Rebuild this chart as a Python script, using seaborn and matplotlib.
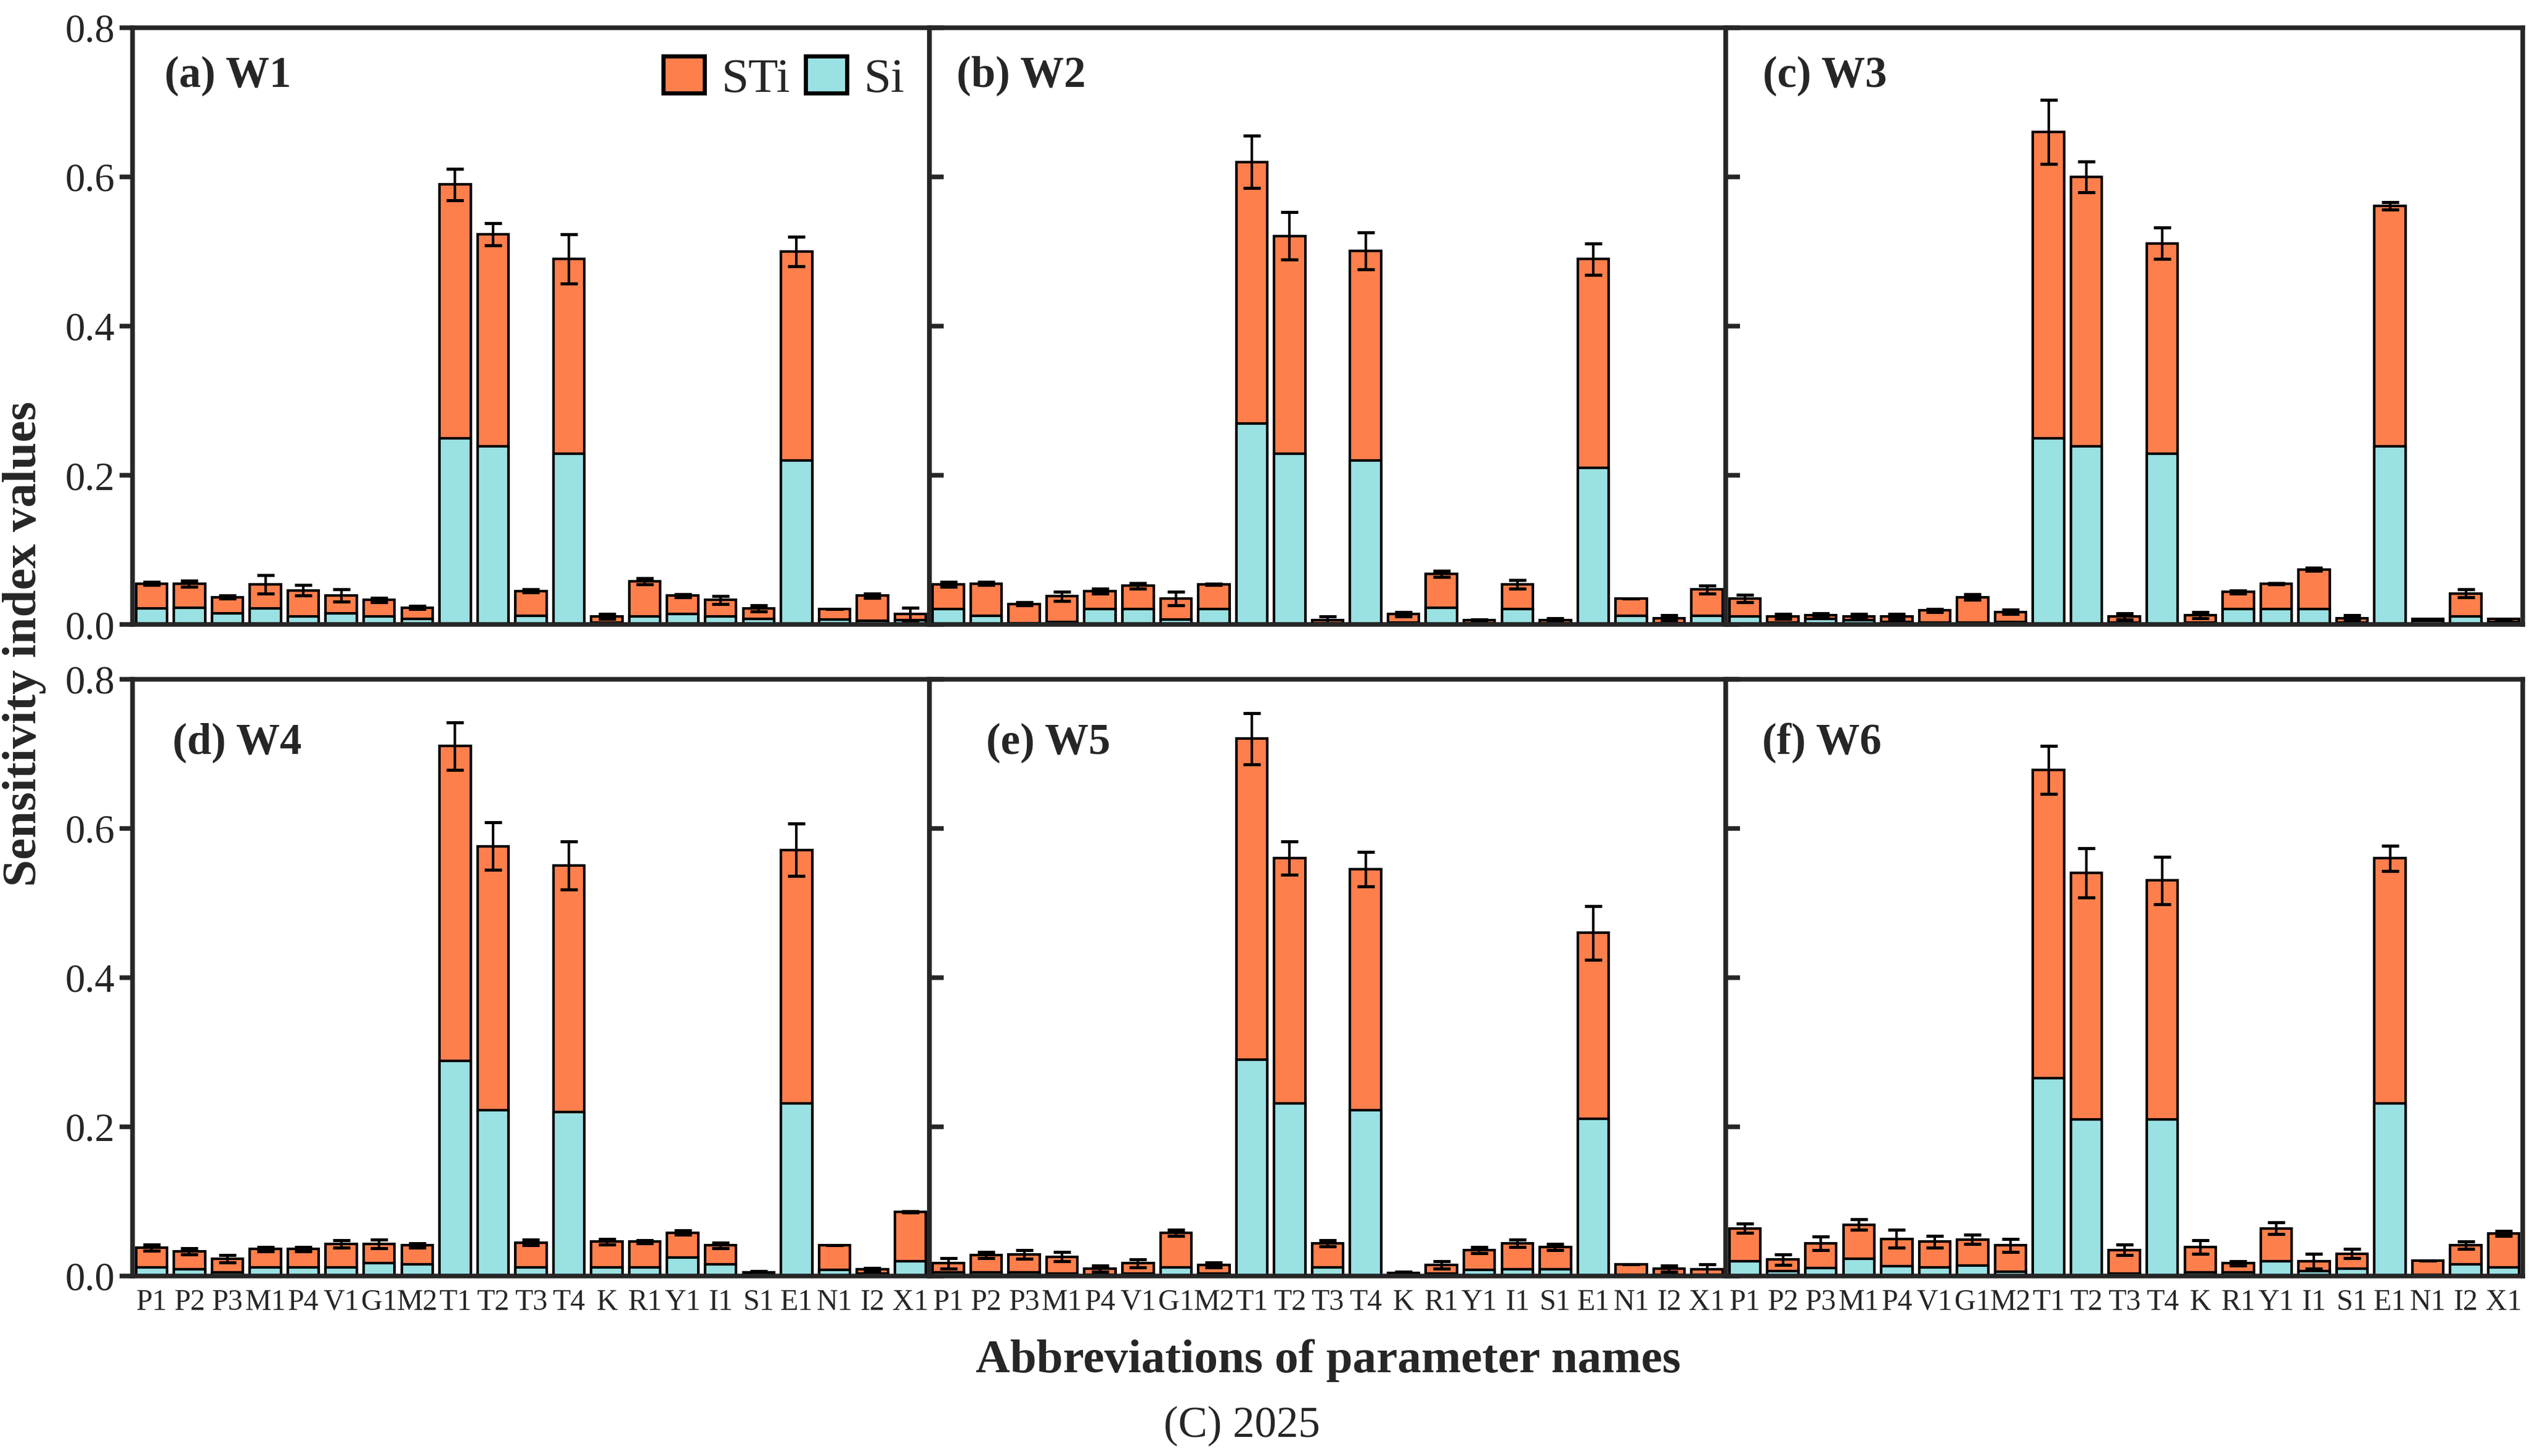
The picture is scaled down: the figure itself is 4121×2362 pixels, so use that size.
import numpy as np
import pandas as pd
import seaborn as sns
import matplotlib
matplotlib.use('Agg')
import matplotlib.pyplot as plt
from matplotlib.patches import Patch
from matplotlib.ticker import FormatStrFormatter

# parameter abbreviations (x axis)
params = ['P1', 'P2', 'P3', 'M1', 'P4', 'V1', 'G1', 'M2', 'T1', 'T2', 'T3',
          'T4', 'K', 'R1', 'Y1', 'I1', 'S1', 'E1', 'N1', 'I2', 'X1']
panel_titles = ['(a) W1', '(b) W2', '(c) W3', '(d) W4', '(e) W5', '(f) W6']

# total-order indices (STi)
sti_w1 = [0.055, 0.055, 0.037, 0.054, 0.046, 0.039, 0.033, 0.023, 0.590, 0.523, 0.045,
          0.490, 0.011, 0.058, 0.039, 0.033, 0.022, 0.500, 0.021, 0.039, 0.014]
sti_w2 = [0.054, 0.055, 0.028, 0.038, 0.045, 0.052, 0.035, 0.054, 0.620, 0.521, 0.006,
          0.501, 0.014, 0.068, 0.006, 0.054, 0.006, 0.490, 0.035, 0.009, 0.047]
sti_w3 = [0.035, 0.011, 0.013, 0.011, 0.011, 0.019, 0.037, 0.017, 0.660, 0.600, 0.011,
          0.511, 0.013, 0.044, 0.055, 0.074, 0.009, 0.561, 0.008, 0.042, 0.008]
sti_w4 = [0.038, 0.033, 0.023, 0.036, 0.036, 0.043, 0.043, 0.041, 0.710, 0.576, 0.045,
          0.550, 0.046, 0.046, 0.058, 0.041, 0.005, 0.571, 0.041, 0.009, 0.086]
sti_w5 = [0.017, 0.028, 0.029, 0.026, 0.010, 0.017, 0.058, 0.015, 0.720, 0.560, 0.044,
          0.545, 0.004, 0.015, 0.035, 0.044, 0.039, 0.460, 0.016, 0.010, 0.009]
sti_w6 = [0.064, 0.022, 0.044, 0.069, 0.050, 0.046, 0.049, 0.041, 0.678, 0.540, 0.035,
          0.530, 0.039, 0.017, 0.064, 0.020, 0.030, 0.560, 0.021, 0.041, 0.057]

# first-order indices (Si)
si_w1 = [0.022, 0.023, 0.015, 0.022, 0.011, 0.015, 0.011, 0.008, 0.250, 0.239, 0.012,
         0.229, 0.003, 0.011, 0.014, 0.011, 0.008, 0.220, 0.007, 0.005, 0.006]
si_w2 = [0.021, 0.012, 0.002, 0.004, 0.021, 0.021, 0.007, 0.021, 0.270, 0.229, 0.002,
         0.220, 0.003, 0.023, 0.002, 0.021, 0.002, 0.210, 0.012, 0.002, 0.012]
si_w3 = [0.011, 0.003, 0.008, 0.006, 0.004, 0.003, 0.003, 0.004, 0.250, 0.239, 0.003,
         0.229, 0.003, 0.021, 0.021, 0.021, 0.003, 0.239, 0.005, 0.011, 0.004]
si_w4 = [0.012, 0.009, 0.005, 0.012, 0.012, 0.012, 0.017, 0.016, 0.288, 0.222, 0.012,
         0.220, 0.012, 0.012, 0.025, 0.016, 0.002, 0.231, 0.008, 0.003, 0.020]
si_w5 = [0.005, 0.005, 0.005, 0.003, 0.002, 0.003, 0.012, 0.003, 0.290, 0.231, 0.012,
         0.222, 0.001, 0.003, 0.008, 0.009, 0.009, 0.211, 0.002, 0.002, 0.002]
si_w6 = [0.020, 0.007, 0.011, 0.023, 0.013, 0.012, 0.014, 0.006, 0.265, 0.210, 0.003,
         0.210, 0.005, 0.005, 0.020, 0.007, 0.010, 0.231, 0.002, 0.016, 0.012]

# error bars on STi
err_w1 = [0.002, 0.004, 0.002, 0.012, 0.007, 0.008, 0.003, 0.002, 0.021, 0.015, 0.002,
          0.033, 0.003, 0.004, 0.002, 0.005, 0.004, 0.020, 0.000, 0.003, 0.009]
err_w2 = [0.003, 0.002, 0.002, 0.006, 0.003, 0.004, 0.009, 0.001, 0.035, 0.032, 0.005,
          0.025, 0.003, 0.004, 0.001, 0.006, 0.003, 0.021, 0.000, 0.004, 0.005]
err_w3 = [0.005, 0.003, 0.002, 0.003, 0.003, 0.002, 0.004, 0.003, 0.043, 0.021, 0.004,
          0.021, 0.004, 0.002, 0.001, 0.002, 0.004, 0.005, 0.000, 0.005, 0.000]
err_w4 = [0.004, 0.004, 0.005, 0.003, 0.003, 0.005, 0.006, 0.003, 0.032, 0.032, 0.004,
          0.032, 0.004, 0.002, 0.003, 0.004, 0.002, 0.035, 0.000, 0.002, 0.001]
err_w5 = [0.007, 0.004, 0.006, 0.006, 0.004, 0.005, 0.004, 0.003, 0.034, 0.022, 0.004,
          0.023, 0.002, 0.005, 0.004, 0.005, 0.004, 0.036, 0.000, 0.004, 0.007]
err_w6 = [0.006, 0.007, 0.009, 0.007, 0.012, 0.008, 0.006, 0.009, 0.032, 0.033, 0.007,
          0.032, 0.009, 0.003, 0.008, 0.010, 0.006, 0.017, 0.000, 0.005, 0.003]

sti_all = [sti_w1, sti_w2, sti_w3, sti_w4, sti_w5, sti_w6]
si_all = [si_w1, si_w2, si_w3, si_w4, si_w5, si_w6]
err_all = [err_w1, err_w2, err_w3, err_w4, err_w5, err_w6]

c_sti = '#FF7F4C'
c_si = '#9AE1E3'

sns.set_style('ticks')
plt.rcParams['font.family'] = ['Liberation Serif', 'DejaVu Serif']
plt.rcParams['axes.linewidth'] = 1.8

fig, axes = plt.subplots(2, 3, figsize=(4121 / 300, 2362 / 300), dpi=300)
fig.subplots_adjust(left=0.0522, right=0.9932, top=0.981, bottom=0.1236,
                    wspace=0, hspace=0.091)

label_x = [0.04, 0.034, 0.046, 0.05, 0.071, 0.045]
label_y = [0.919, 0.919, 0.919, 0.893, 0.893, 0.893]

for i, ax in enumerate(axes.flat):
    df = pd.DataFrame({'param': params, 'STi': sti_all[i], 'Si': si_all[i]})
    sns.barplot(data=df, x='param', y='STi', order=params, color=c_sti, saturation=1,
                width=0.82, edgecolor='black', linewidth=1.0, ax=ax, zorder=2)
    sns.barplot(data=df, x='param', y='Si', order=params, color=c_si, saturation=1,
                width=0.82, edgecolor='black', linewidth=1.0, ax=ax, zorder=2)
    ax.errorbar(np.arange(len(params)), sti_all[i], yerr=err_all[i], fmt='none',
                ecolor='black', elinewidth=1.0, capsize=3.3, capthick=1.2, zorder=4)

    ax.set_xlim(-0.5, len(params) - 0.5)
    ax.set_ylim(0, 0.8)
    ax.set_yticks(np.arange(0, 0.81, 0.2))
    ax.yaxis.set_major_formatter(FormatStrFormatter('%.1f'))
    ax.set_xlabel('')
    ax.set_ylabel('')
    for s in ax.spines.values():
        s.set_visible(True)
        s.set_linewidth(1.8)
        s.set_zorder(5)

    col = i % 3
    if col == 0:
        ax.tick_params(axis='y', direction='out', length=5, width=1.8,
                       labelsize=15.5, pad=2)
    else:
        ax.tick_params(axis='y', direction='in', length=5.5, width=1.8,
                       labelleft=False)
    if i < 3:
        ax.tick_params(axis='x', length=0, labelbottom=False)
    else:
        ax.tick_params(axis='x', length=0, labelsize=11.5, pad=5)

    ax.text(label_x[i], label_y[i], panel_titles[i], transform=ax.transAxes,
            fontsize=17, fontweight='bold', ha='left', va='center')

handles = [Patch(facecolor=c_sti, edgecolor='black', linewidth=1.6, label='STi'),
           Patch(facecolor=c_si, edgecolor='black', linewidth=1.6, label='Si')]
axes[0, 0].legend(handles=handles, loc='center right', bbox_to_anchor=(0.975, 0.914),
                  ncol=2, frameon=False, fontsize=19, handlelength=0.85,
                  handleheight=0.8, handletextpad=0.35, columnspacing=0.3,
                  borderpad=0.1, borderaxespad=0)

fig.text(0.0097, 0.558, 'Sensitivity index values', rotation=90, fontsize=19,
         fontweight='bold', ha='center', va='center')
fig.text(0.523, 0.0656, 'Abbreviations of parameter names', fontsize=18.5,
         fontweight='bold', ha='center', va='center')
fig.text(0.489, 0.0207, '(C) 2025', fontsize=17, ha='center', va='center')

fig.savefig('out.png', dpi=300)
